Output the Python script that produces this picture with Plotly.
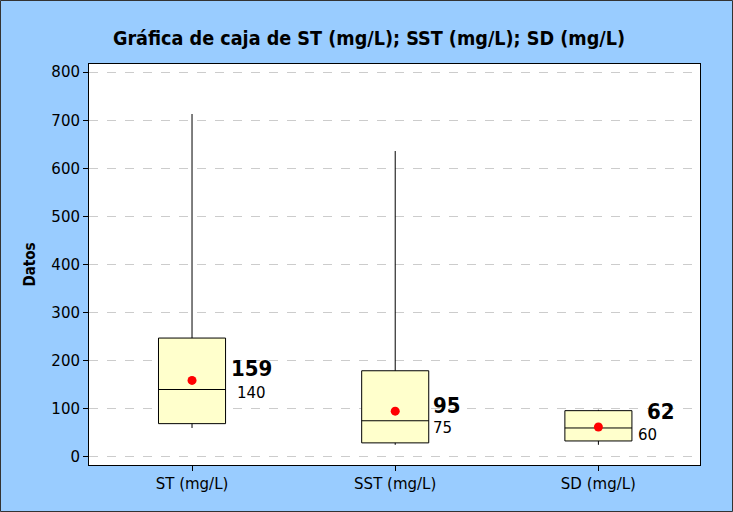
import plotly.graph_objects as go

categories = ["ST (mg/L)", "SST (mg/L)", "SD (mg/L)"]
lower_whisker = [60, 25, 25]
q1_vals = [69, 29, 33]
median_vals = [140, 75, 60]
q3_vals = [247, 179, 96]
upper_whisker = [713, 636, 98]
mean_vals = [159, 95, 62]
y_ticks = [0, 100, 200, 300, 400, 500, 600, 700, 800]

W, H = 733, 512
ml, mr, mt, mb = 89, 33, 64, 47
pw, ph = W - ml - mr, H - mt - mb

FONT_C = "DejaVu Sans Condensed, DejaVu Sans, sans-serif"
FONT = "DejaVu Sans, sans-serif"

fig = go.Figure()
fig.add_trace(go.Box(
    x=categories, q1=q1_vals, median=median_vals, q3=q3_vals,
    lowerfence=lower_whisker, upperfence=upper_whisker,
    fillcolor="#FFFFCC", line=dict(color="black", width=1),
    whiskerwidth=0, width=0.33, boxpoints=False, showlegend=False,
    hoverinfo="skip",
))
fig.add_trace(go.Scatter(
    x=categories, y=mean_vals, mode="markers",
    marker=dict(color="red", size=9), showlegend=False, hoverinfo="skip",
))

mean_shift = [(37, 12), (36, 6), (47, 16)]
median_shift = [(43, -3), (36, -7), (38, -7)]
for i, c in enumerate(categories):
    fig.add_annotation(x=c, y=mean_vals[i], text="<b>%d</b>" % mean_vals[i],
                       showarrow=False, xanchor="left", yanchor="middle",
                       xshift=mean_shift[i][0], yshift=mean_shift[i][1],
                       font=dict(family=FONT_C, size=22, color="black"))
    fig.add_annotation(x=c, y=median_vals[i], text="%d" % median_vals[i],
                       showarrow=False, xanchor="left", yanchor="middle",
                       xshift=median_shift[i][0], yshift=median_shift[i][1],
                       font=dict(family=FONT, size=15, color="black"))

# outer frame
fig.add_shape(type="rect", xref="paper", yref="paper",
              x0=-(ml - 0.5) / pw, x1=1 + (mr - 0.5) / pw,
              y0=-(mb - 0.5) / ph, y1=1 + (mt - 0.5) / ph,
              line=dict(color="#333333", width=1), layer="below")

fig.update_layout(
    width=W, height=H,
    margin=dict(l=ml, r=mr, t=mt, b=mb),
    paper_bgcolor="#99CCFF", plot_bgcolor="white",
    title=dict(text="<b>Gráfica de caja de ST (mg/L); SST (mg/L); SD (mg/L)</b>",
               x=(115 + 623) / 2 / W, xanchor="center", y=1 - 38 / H, yanchor="middle",
               font=dict(family=FONT_C, size=19.6, color="black")),
    font=dict(family=FONT, size=15, color="black"),
    xaxis=dict(type="category", range=[-0.507, 2.5], showgrid=False,
               showline=True, linecolor="black", linewidth=1, mirror=True,
               ticks="outside", ticklen=5, tickcolor="black",
               tickfont=dict(size=15)),
    yaxis=dict(range=[-17, 817], tickvals=y_ticks, showgrid=True,
               gridcolor="#CCCCCC", griddash="dash", gridwidth=1,
               zeroline=False, showline=True, linecolor="black", linewidth=1,
               mirror=True, ticks="outside", ticklen=5, tickcolor="black",
               tickfont=dict(size=15),
               title=dict(text="<b>Datos</b>", font=dict(family=FONT_C, size=15),
                          standoff=12)),
)

fig.write_html("out.html", config={"displayModeBar": False},
               post_script="document.body.style.margin='0';")
